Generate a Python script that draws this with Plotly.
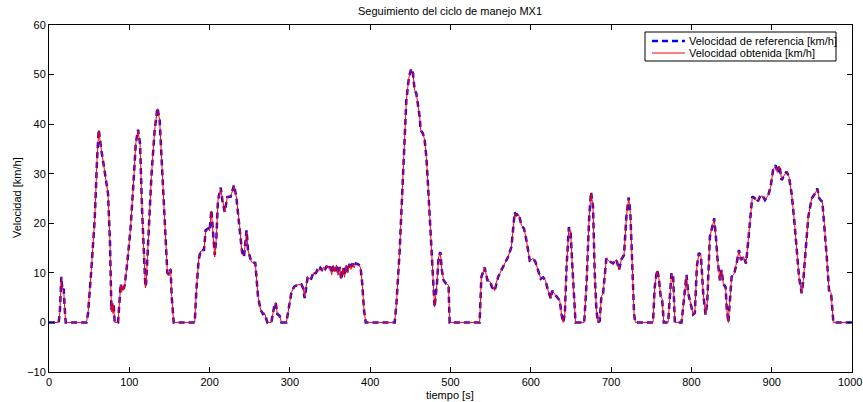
import plotly.graph_objects as go

# tiempo [s]
tiempo = [0, 12, 13.5, 15.4, 16.6, 18.3, 19.5, 20.8, 46.6, 48.6, 52.7, 56.9, 59.8, 61.9, 65.2, 69.3, 73.5, 76, 77.7, 78.5, 79.7, 80.5, 81.8, 86,
          89.3, 90.5, 92, 93, 94.3, 97.6, 101.7, 105.9, 108, 110.9, 113.4, 115.9, 118.3, 120, 121, 123.3, 127.5, 131.6, 135, 137.8, 140.7, 144,
          147.4, 149.5, 151.5, 152.8, 155.3, 181.5, 183.5, 186.4, 188.9, 193, 195.1, 198, 200, 202.2, 204.3, 206.4, 208.5, 210.4, 213.8, 216,
          218.8, 222.1, 226.3, 230.4, 233.3, 237.4, 240.4, 242.8, 244.5, 246.1, 247.8, 252, 256.9, 260.3, 263.6, 266.5, 268.6, 271.9, 276.9,
          280.2, 282.3, 284.4, 287.3, 289.4, 295.6, 298.9, 301.8, 305.2, 310.1, 314.3, 316.4, 318.4, 320.5, 322, 324, 326, 328, 330, 332, 334,
          336, 338, 340, 342, 344, 346, 348, 350, 352, 354, 356, 358, 360, 362, 364, 366, 368, 370, 372, 374, 376, 378, 380, 382, 384, 386, 388,
          390, 392.3, 394.4, 430.5, 432.6, 436.7, 439.6, 442.1, 445, 448.3, 451.2, 453.3, 455.3, 457.4, 459.5, 461.6, 462.8, 465.7, 467.8,
          469.9, 471.9, 474, 476.1, 478.2, 480.2, 483.1, 485.2, 487.3, 489.3, 491.4, 494.7, 497.6, 498.9, 536.3, 538.4, 542.5, 545.9, 548.8,
          551.7, 555, 557.1, 559.2, 563.3, 567.5, 571.6, 575.8, 577.9, 580, 582, 585, 588.3, 591.6, 594.5, 598.7, 602.9, 605.8, 609.1, 612.4,
          615.3, 618.2, 621.6, 624.9, 626.6, 629.9, 633.2, 636.1, 638.2, 640.3, 642.4, 644.5, 647.4, 649.5, 651.6, 654, 655.7, 666.5, 669.4,
          672.7, 675, 677.5, 679.6, 681.7, 683.7, 685.8, 687.9, 690, 692, 694.1, 698.3, 702.4, 706.6, 709.9, 712.8, 716.1, 719, 721.9, 724,
          726.1, 728.6, 730.2, 752.2, 754.3, 757.2, 759.3, 761.8, 763.5, 765.6, 771, 773.1, 775.2, 777.3, 779.4, 787.7, 791, 793.9, 796, 799.3,
          802.2, 804.3, 806.8, 809.3, 811.8, 814.7, 817.6, 819.7, 823, 826, 828.4, 830.5, 832.6, 835.5, 837.6, 839.7, 842.6, 843.9, 846, 848,
          850.1, 853.4, 856.3, 859.2, 861.7, 864.6, 868, 870.9, 872.9, 875.8, 879.2, 882.5, 885.4, 888.3, 891.6, 895.8, 898.7, 902, 904.9,
          907.4, 909.5, 912.4, 915.7, 918.6, 921.5, 924.8, 928.1, 931.1, 934, 937.3, 939.4, 942.3, 945.6, 949.8, 953.9, 956.8, 959.3, 963.1,
          965.6, 968.5, 971.4, 973.9, 976.8, 1000]

# Velocidad de referencia [km/h]
vel_ref = [0, 0, 2, 9.2, 6.5, 6.8, 3, 0, 0, 1.8, 10.6, 20.7, 32.7, 38.9, 34.8, 30.0, 26.0, 15.9, 2.5, 4.2, 2.0, 3.8, 0, 0,
           7.8, 6.5, 7.2, 6.8, 7.5, 12.2, 19.3, 30.0, 36.0, 38.9, 36.0, 22.7, 11.2, 7.2, 8.0, 15.9, 29.4, 38.8, 43.3, 40.8, 31.4, 19.3,
           10.0, 9.6, 10.7, 5.2, 0, 0, 6.5, 12.6, 14.6, 14.6, 18.6, 18.9, 18.5, 22.7, 17.3, 13.6, 17.3, 24.6, 27.2, 24.5,
           22.3, 25.3, 25.4, 27.7, 25.3, 19.6, 14.2, 13.2, 15.9, 18.6, 14.6, 12.2, 12.0, 5.2, 2.5, 1.7, 1.8, 0, 0,
           3.0, 4.0, 1.7, 1.3, 0, 0, 3.0, 6.0, 7.2, 7.6, 7.7, 6.9, 4.9, 8.1, 9.0, 9.1, 8.6, 9.5, 10.3, 9.8, 10.5,
           10.2, 11.0, 10.6, 11.2, 10.8, 11.4, 10.7, 11.3, 9.9, 11.5, 10.4, 11.6, 9.8, 11.2, 8.6, 11.0, 9.4, 11.6, 10.2, 11.8, 10.9, 11.9, 11.2, 11.9, 11.8, 11.6, 11.0,
           8.0, 2.5, 0, 0, 3.6, 14.5, 24.6, 36.1, 44.8, 49.5, 51.2, 50.2, 46.9, 46.2, 43.8, 41.5, 38.8, 38.1, 36.8,
           33.4, 28.0, 21.3, 14.6, 7.8, 3.1, 7.8, 13.2, 14.2, 10.5, 8.5, 7.8, 7.5, 0, 0, 9.1, 11.1, 8.5, 8.5,
           7.1, 6.4, 8.1, 9.1, 10.5, 11.8, 13.2, 15.2, 19.2, 22.2, 21.6, 21.9, 19.6, 18.9, 16.6, 12.5, 12.9, 12.2, 10.5, 8.8,
           9.1, 8.5, 6.4, 4.8, 6.4, 5.7, 5.0, 4.4, 1.7, 0, 1.7, 11.1, 19.2, 18.6, 11.8, 3.7, 0, 0, 7.8,
           21.2, 26.3, 23.3, 9.9, 2.5, 0, 0.3, 5.2, 5.8, 9.9, 12.9, 12.3, 11.9, 12.7, 10.6, 12.7, 13.6, 21.3, 25.2, 22.0,
           11.3, 1.7, 0, 0, 7.1, 10.6, 9.2, 5.2, 4.8, 0, 0, 5.2, 10.0, 9.2, 0, 0, 5.2, 9.6, 5.9, 3.9,
           1.6, 1.9, 11.3, 14.0, 13.6, 5.9, 1.6, 3.9, 17.3, 19.3, 21.0, 17.3, 12.6, 8.5, 10.6, 7.8, 7.1, 3.1, 0, 4.5,
           9.2, 9.9, 11.9, 14.6, 12.6, 13.3, 11.9, 16.6, 19.9, 25.4, 25.0, 24.3, 25.4, 25.7, 24.7, 25.7, 27.4, 31.1, 31.7,
           30.1, 31.7, 28.7, 29.7, 30.4, 29.4, 26.0, 20.6, 14.6, 9.2, 5.9, 8.5, 14.6, 21.3, 25.0, 26.0, 27.0, 25.0, 24.3,
           19.9, 13.3, 6.5, 6.0, 0, 0]

# Velocidad obtenida [km/h]
vel_obt = [0, 0, 2, 9.0, 6.8, 6.5, 3, 0, 0, 1.8, 10.6, 20.7, 32.7, 38.7, 34.8, 30.0, 26.0, 15.9, 2.2, 4.0, 1.8, 3.5, 0, 0,
           7.6, 6.2, 7.4, 6.5, 7.5, 12.2, 19.3, 30.0, 36.0, 38.7, 36.0, 22.7, 11.2, 7.0, 8.0, 15.9, 29.4, 38.8, 43.1, 40.8, 31.4, 19.3,
           10.0, 9.4, 10.9, 5.2, 0, 0, 6.5, 12.6, 14.4, 14.6, 18.4, 18.9, 18.5, 22.5, 17.3, 13.2, 17.3, 24.6, 27.0, 24.5,
           22.3, 25.3, 25.4, 27.5, 25.3, 19.6, 13.8, 13.6, 15.5, 18.2, 14.6, 12.2, 12.0, 5.2, 2.5, 1.7, 1.8, 0, 0,
           3.0, 4.0, 1.7, 1.3, 0, 0, 3.0, 6.0, 7.2, 7.6, 7.7, 6.9, 5.2, 8.1, 9.2, 8.9, 8.8, 9.5, 10.1, 9.8, 10.5,
           10.4, 11.0, 10.4, 11.2, 10.6, 11.4, 10.9, 11.3, 9.6, 11.5, 10.2, 11.6, 9.5, 11.2, 8.9, 11.0, 9.1, 11.6, 10.0, 11.8, 10.7, 11.9, 11.0, 11.9, 11.8, 11.6, 11.0,
           8.0, 2.5, 0, 0, 3.6, 14.5, 24.6, 36.1, 44.8, 49.5, 51.0, 50.2, 46.9, 46.2, 43.8, 41.5, 38.8, 38.1, 36.8,
           33.4, 28.0, 21.3, 14.6, 7.8, 3.1, 7.8, 13.2, 14.0, 10.5, 8.5, 7.8, 7.5, 0, 0, 9.1, 11.1, 8.5, 8.3,
           7.3, 6.4, 8.1, 9.1, 10.5, 11.8, 13.2, 15.2, 19.2, 22.0, 21.6, 21.7, 19.6, 18.9, 16.6, 12.5, 12.9, 12.2, 10.5, 8.8,
           9.1, 8.5, 6.4, 4.8, 6.4, 5.7, 5.0, 4.4, 1.7, 0, 1.7, 11.1, 19.0, 18.6, 11.8, 3.7, 0, 0, 7.8,
           21.2, 26.1, 23.3, 9.9, 2.5, 0, 0.3, 5.2, 5.8, 9.9, 12.9, 12.3, 11.9, 12.7, 10.6, 12.7, 13.6, 21.3, 25.0, 22.0,
           11.3, 1.7, 0, 0, 7.1, 10.4, 9.2, 5.2, 4.8, 0, 0, 5.2, 9.8, 9.2, 0, 0, 5.2, 9.4, 5.9, 3.9,
           1.6, 1.9, 11.3, 13.8, 13.6, 5.9, 1.6, 3.9, 17.3, 19.3, 20.8, 17.3, 12.6, 8.5, 10.6, 7.8, 7.1, 3.1, 0, 4.5,
           9.2, 9.9, 11.9, 14.4, 12.6, 13.3, 11.9, 16.6, 19.9, 25.2, 25.0, 24.3, 25.4, 25.5, 24.7, 25.7, 27.4, 30.9, 31.5,
           30.3, 31.5, 28.9, 29.7, 30.4, 29.4, 26.0, 20.6, 14.6, 9.2, 5.9, 8.5, 14.6, 21.3, 25.0, 26.0, 26.8, 25.0, 24.3,
           19.9, 13.3, 6.5, 6.0, 0, 0]

x_ticks = [0, 100, 200, 300, 400, 500, 600, 700, 800, 900, 1000]
y_ticks = [-10, 0, 10, 20, 30, 40, 50, 60]
series_names = ["Velocidad de referencia [km/h]", "Velocidad obtenida [km/h]"]

FONT = "Liberation Sans, Arial, Helvetica, sans-serif"
W, H = 863, 402
# plot area in window pixels: x 49..852, y 25..372
ML, MT = 49, 25
MR, MB = W - 852, H - 372
PW, PH = W - ML - MR, H - MT - MB


def px_x(p):
    """window pixel x -> paper x"""
    return (p - ML) / PW


def px_y(p):
    """window pixel y -> paper y"""
    return (H - MB - p) / PH


ref_line = dict(color="#0000ff", width=2.5, dash="6px,4px")
obt_line = dict(color="#ff0000", width=1)

fig = go.Figure()
fig.add_trace(go.Scatter(x=tiempo, y=vel_ref, mode="lines", name=series_names[0],
                         line=ref_line, showlegend=False))
fig.add_trace(go.Scatter(x=tiempo, y=vel_obt, mode="lines", name=series_names[1],
                         line=obt_line, showlegend=False))

axis_common = dict(
    showgrid=False, zeroline=False, showline=True, linecolor="black", linewidth=1,
    mirror="ticks", ticks="inside", ticklen=5, tickcolor="black", tickwidth=1,
    tickfont=dict(family=FONT, size=11, color="black"), automargin=False,
)

# legend box drawn in paper coordinates
shapes = [
    dict(type="rect", xref="paper", yref="paper", x0=px_x(645), x1=px_x(836), y0=px_y(61), y1=px_y(32),
         line=dict(color="black", width=1), fillcolor="white", layer="above"),
    dict(type="line", xref="paper", yref="paper", x0=px_x(652), x1=px_x(685), y0=px_y(41), y1=px_y(41),
         line=ref_line, layer="above"),
    dict(type="line", xref="paper", yref="paper", x0=px_x(652), x1=px_x(685), y0=px_y(53), y1=px_y(53),
         line=obt_line, layer="above"),
]
txt_font = dict(family=FONT, size=11, color="black")
annotations = [
    dict(text=series_names[0], xref="paper", yref="paper", x=px_x(687), y=px_y(41),
         xanchor="left", yanchor="middle", showarrow=False, font=txt_font),
    dict(text=series_names[1], xref="paper", yref="paper", x=px_x(687), y=px_y(53),
         xanchor="left", yanchor="middle", showarrow=False, font=txt_font),
    dict(text="tiempo [s]", xref="paper", yref="paper", x=px_x(450), y=px_y(395),
         xanchor="center", yanchor="middle", showarrow=False, font=txt_font),
    dict(text="Velocidad [km/h]", xref="paper", yref="paper", x=px_x(17), y=px_y(198), textangle=-90,
         xanchor="center", yanchor="middle", showarrow=False, font=txt_font),
    dict(text="Seguimiento del ciclo de manejo MX1", xref="paper", yref="paper", x=px_x(450), y=px_y(11),
         xanchor="center", yanchor="middle", showarrow=False, font=txt_font),
    # last x tick label sits at the window edge; plotly drops it, so place it explicitly
    dict(text=str(x_ticks[-1]), xref="paper", yref="paper", x=px_x(850), y=px_y(382),
         xanchor="center", yanchor="middle", showarrow=False, font=txt_font),
]

fig.update_layout(
    width=W, height=H,
    margin=dict(l=ML, r=MR, t=MT, b=MB, autoexpand=False),
    paper_bgcolor="white", plot_bgcolor="white",
    font=txt_font,
    xaxis=dict(range=[0, 1000], tickvals=x_ticks, ticktext=[str(v) for v in x_ticks[:-1]] + [""],
               **axis_common),
    yaxis=dict(range=[-10, 60], tickvals=y_ticks, **axis_common),
    shapes=shapes, annotations=annotations,
    showlegend=False,
)

# remove the browser's default 8px page margin so the figure fills the window
fig.write_html("out.html", config={"displayModeBar": False},
               post_script="document.body.style.margin='0';")
